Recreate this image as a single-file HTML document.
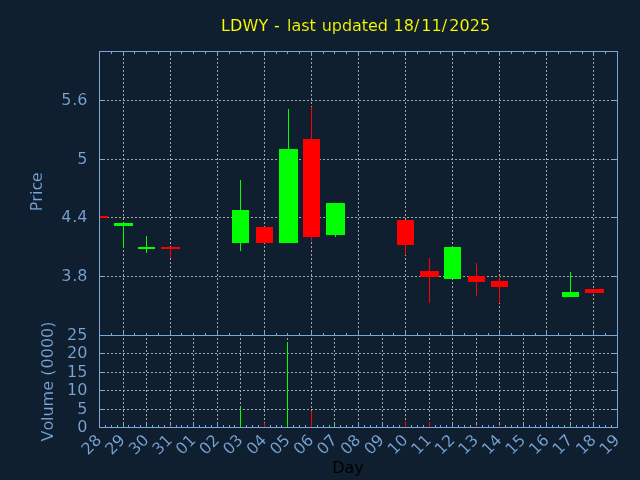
<!DOCTYPE html>
<html lang="en">
<head>
<meta charset="utf-8">
<title>LDWY - last updated 18/11/2025</title>
<style>
html,body{margin:0;padding:0;background:#0f1f2f;}
body{width:640px;height:480px;overflow:hidden;}
svg{display:block;}
svg text{font-family:"DejaVu Sans","Liberation Sans",sans-serif;font-size:16px;stroke:#0f1f2f;stroke-width:0.12px;}
</style>
</head>
<body>
<svg width="640" height="480" viewBox="0 0 640 480">
<rect x="0" y="0" width="640" height="480" fill="#0f1f2f"/>
<g shape-rendering="crispEdges">
<line x1="100" y1="100.5" x2="617" y2="100.5" stroke="#a8a8a8" stroke-width="1" stroke-dasharray="2 2" stroke-dashoffset="1"/>
<line x1="100" y1="159.5" x2="617" y2="159.5" stroke="#a8a8a8" stroke-width="1" stroke-dasharray="2 2" stroke-dashoffset="1"/>
<line x1="100" y1="217.5" x2="617" y2="217.5" stroke="#a8a8a8" stroke-width="1" stroke-dasharray="2 2" stroke-dashoffset="1"/>
<line x1="100" y1="276.5" x2="617" y2="276.5" stroke="#a8a8a8" stroke-width="1" stroke-dasharray="2 2" stroke-dashoffset="1"/>
<line x1="123.5" y1="52" x2="123.5" y2="335" stroke="#a8a8a8" stroke-width="1" stroke-dasharray="2 2" stroke-dashoffset="2"/>
<line x1="170.5" y1="52" x2="170.5" y2="335" stroke="#a8a8a8" stroke-width="1" stroke-dasharray="2 2" stroke-dashoffset="2"/>
<line x1="217.5" y1="52" x2="217.5" y2="335" stroke="#a8a8a8" stroke-width="1" stroke-dasharray="2 2" stroke-dashoffset="2"/>
<line x1="264.5" y1="52" x2="264.5" y2="335" stroke="#a8a8a8" stroke-width="1" stroke-dasharray="2 2" stroke-dashoffset="2"/>
<line x1="311.5" y1="52" x2="311.5" y2="335" stroke="#a8a8a8" stroke-width="1" stroke-dasharray="2 2" stroke-dashoffset="2"/>
<line x1="358.5" y1="52" x2="358.5" y2="335" stroke="#a8a8a8" stroke-width="1" stroke-dasharray="2 2" stroke-dashoffset="2"/>
<line x1="405.5" y1="52" x2="405.5" y2="335" stroke="#a8a8a8" stroke-width="1" stroke-dasharray="2 2" stroke-dashoffset="2"/>
<line x1="452.5" y1="52" x2="452.5" y2="335" stroke="#a8a8a8" stroke-width="1" stroke-dasharray="2 2" stroke-dashoffset="2"/>
<line x1="499.5" y1="52" x2="499.5" y2="335" stroke="#a8a8a8" stroke-width="1" stroke-dasharray="2 2" stroke-dashoffset="2"/>
<line x1="546.5" y1="52" x2="546.5" y2="335" stroke="#a8a8a8" stroke-width="1" stroke-dasharray="2 2" stroke-dashoffset="2"/>
<line x1="593.5" y1="52" x2="593.5" y2="335" stroke="#a8a8a8" stroke-width="1" stroke-dasharray="2 2" stroke-dashoffset="2"/>
<line x1="100" y1="353.5" x2="617" y2="353.5" stroke="#a8a8a8" stroke-width="1" stroke-dasharray="2 2" stroke-dashoffset="1"/>
<line x1="100" y1="372.5" x2="617" y2="372.5" stroke="#a8a8a8" stroke-width="1" stroke-dasharray="2 2" stroke-dashoffset="1"/>
<line x1="100" y1="390.5" x2="617" y2="390.5" stroke="#a8a8a8" stroke-width="1" stroke-dasharray="2 2" stroke-dashoffset="1"/>
<line x1="100" y1="409.5" x2="617" y2="409.5" stroke="#a8a8a8" stroke-width="1" stroke-dasharray="2 2" stroke-dashoffset="1"/>
<line x1="123.5" y1="336" x2="123.5" y2="427" stroke="#a8a8a8" stroke-width="1" stroke-dasharray="2 2" stroke-dashoffset="2"/>
<line x1="146.5" y1="336" x2="146.5" y2="427" stroke="#a8a8a8" stroke-width="1" stroke-dasharray="2 2" stroke-dashoffset="2"/>
<line x1="170.5" y1="336" x2="170.5" y2="427" stroke="#a8a8a8" stroke-width="1" stroke-dasharray="2 2" stroke-dashoffset="2"/>
<line x1="193.5" y1="336" x2="193.5" y2="427" stroke="#a8a8a8" stroke-width="1" stroke-dasharray="2 2" stroke-dashoffset="2"/>
<line x1="217.5" y1="336" x2="217.5" y2="427" stroke="#a8a8a8" stroke-width="1" stroke-dasharray="2 2" stroke-dashoffset="2"/>
<line x1="240.5" y1="336" x2="240.5" y2="427" stroke="#a8a8a8" stroke-width="1" stroke-dasharray="2 2" stroke-dashoffset="2"/>
<line x1="264.5" y1="336" x2="264.5" y2="427" stroke="#a8a8a8" stroke-width="1" stroke-dasharray="2 2" stroke-dashoffset="2"/>
<line x1="287.5" y1="336" x2="287.5" y2="427" stroke="#a8a8a8" stroke-width="1" stroke-dasharray="2 2" stroke-dashoffset="2"/>
<line x1="311.5" y1="336" x2="311.5" y2="427" stroke="#a8a8a8" stroke-width="1" stroke-dasharray="2 2" stroke-dashoffset="2"/>
<line x1="334.5" y1="336" x2="334.5" y2="427" stroke="#a8a8a8" stroke-width="1" stroke-dasharray="2 2" stroke-dashoffset="2"/>
<line x1="358.5" y1="336" x2="358.5" y2="427" stroke="#a8a8a8" stroke-width="1" stroke-dasharray="2 2" stroke-dashoffset="2"/>
<line x1="382.5" y1="336" x2="382.5" y2="427" stroke="#a8a8a8" stroke-width="1" stroke-dasharray="2 2" stroke-dashoffset="2"/>
<line x1="405.5" y1="336" x2="405.5" y2="427" stroke="#a8a8a8" stroke-width="1" stroke-dasharray="2 2" stroke-dashoffset="2"/>
<line x1="429.5" y1="336" x2="429.5" y2="427" stroke="#a8a8a8" stroke-width="1" stroke-dasharray="2 2" stroke-dashoffset="2"/>
<line x1="452.5" y1="336" x2="452.5" y2="427" stroke="#a8a8a8" stroke-width="1" stroke-dasharray="2 2" stroke-dashoffset="2"/>
<line x1="476.5" y1="336" x2="476.5" y2="427" stroke="#a8a8a8" stroke-width="1" stroke-dasharray="2 2" stroke-dashoffset="2"/>
<line x1="499.5" y1="336" x2="499.5" y2="427" stroke="#a8a8a8" stroke-width="1" stroke-dasharray="2 2" stroke-dashoffset="2"/>
<line x1="523.5" y1="336" x2="523.5" y2="427" stroke="#a8a8a8" stroke-width="1" stroke-dasharray="2 2" stroke-dashoffset="2"/>
<line x1="546.5" y1="336" x2="546.5" y2="427" stroke="#a8a8a8" stroke-width="1" stroke-dasharray="2 2" stroke-dashoffset="2"/>
<line x1="570.5" y1="336" x2="570.5" y2="427" stroke="#a8a8a8" stroke-width="1" stroke-dasharray="2 2" stroke-dashoffset="2"/>
<line x1="593.5" y1="336" x2="593.5" y2="427" stroke="#a8a8a8" stroke-width="1" stroke-dasharray="2 2" stroke-dashoffset="2"/>
<rect x="99" y="51" width="1" height="377" fill="#7ba7d9"/>
<rect x="617" y="51" width="1" height="377" fill="#7ba7d9"/>
<rect x="99" y="51" width="519" height="1" fill="#7ba7d9"/>
<rect x="99" y="335" width="519" height="1" fill="#7ba7d9"/>
<rect x="99" y="427" width="519" height="1" fill="#7ba7d9"/>
<rect x="111" y="52" width="1" height="2" fill="#7ba7d9"/>
<rect x="111" y="333" width="1" height="2" fill="#7ba7d9"/>
<rect x="123" y="52" width="1" height="4" fill="#7ba7d9"/>
<rect x="123" y="331" width="1" height="4" fill="#7ba7d9"/>
<rect x="134" y="52" width="1" height="2" fill="#7ba7d9"/>
<rect x="134" y="333" width="1" height="2" fill="#7ba7d9"/>
<rect x="146" y="52" width="1" height="2" fill="#7ba7d9"/>
<rect x="146" y="333" width="1" height="2" fill="#7ba7d9"/>
<rect x="158" y="52" width="1" height="2" fill="#7ba7d9"/>
<rect x="158" y="333" width="1" height="2" fill="#7ba7d9"/>
<rect x="170" y="52" width="1" height="4" fill="#7ba7d9"/>
<rect x="170" y="331" width="1" height="4" fill="#7ba7d9"/>
<rect x="181" y="52" width="1" height="2" fill="#7ba7d9"/>
<rect x="181" y="333" width="1" height="2" fill="#7ba7d9"/>
<rect x="193" y="52" width="1" height="2" fill="#7ba7d9"/>
<rect x="193" y="333" width="1" height="2" fill="#7ba7d9"/>
<rect x="205" y="52" width="1" height="2" fill="#7ba7d9"/>
<rect x="205" y="333" width="1" height="2" fill="#7ba7d9"/>
<rect x="217" y="52" width="1" height="4" fill="#7ba7d9"/>
<rect x="217" y="331" width="1" height="4" fill="#7ba7d9"/>
<rect x="229" y="52" width="1" height="2" fill="#7ba7d9"/>
<rect x="229" y="333" width="1" height="2" fill="#7ba7d9"/>
<rect x="240" y="52" width="1" height="2" fill="#7ba7d9"/>
<rect x="240" y="333" width="1" height="2" fill="#7ba7d9"/>
<rect x="252" y="52" width="1" height="2" fill="#7ba7d9"/>
<rect x="252" y="333" width="1" height="2" fill="#7ba7d9"/>
<rect x="264" y="52" width="1" height="4" fill="#7ba7d9"/>
<rect x="264" y="331" width="1" height="4" fill="#7ba7d9"/>
<rect x="276" y="52" width="1" height="2" fill="#7ba7d9"/>
<rect x="276" y="333" width="1" height="2" fill="#7ba7d9"/>
<rect x="287" y="52" width="1" height="2" fill="#7ba7d9"/>
<rect x="287" y="333" width="1" height="2" fill="#7ba7d9"/>
<rect x="299" y="52" width="1" height="2" fill="#7ba7d9"/>
<rect x="299" y="333" width="1" height="2" fill="#7ba7d9"/>
<rect x="311" y="52" width="1" height="4" fill="#7ba7d9"/>
<rect x="311" y="331" width="1" height="4" fill="#7ba7d9"/>
<rect x="323" y="52" width="1" height="2" fill="#7ba7d9"/>
<rect x="323" y="333" width="1" height="2" fill="#7ba7d9"/>
<rect x="334" y="52" width="1" height="2" fill="#7ba7d9"/>
<rect x="334" y="333" width="1" height="2" fill="#7ba7d9"/>
<rect x="346" y="52" width="1" height="2" fill="#7ba7d9"/>
<rect x="346" y="333" width="1" height="2" fill="#7ba7d9"/>
<rect x="358" y="52" width="1" height="4" fill="#7ba7d9"/>
<rect x="358" y="331" width="1" height="4" fill="#7ba7d9"/>
<rect x="370" y="52" width="1" height="2" fill="#7ba7d9"/>
<rect x="370" y="333" width="1" height="2" fill="#7ba7d9"/>
<rect x="382" y="52" width="1" height="2" fill="#7ba7d9"/>
<rect x="382" y="333" width="1" height="2" fill="#7ba7d9"/>
<rect x="393" y="52" width="1" height="2" fill="#7ba7d9"/>
<rect x="393" y="333" width="1" height="2" fill="#7ba7d9"/>
<rect x="405" y="52" width="1" height="4" fill="#7ba7d9"/>
<rect x="405" y="331" width="1" height="4" fill="#7ba7d9"/>
<rect x="417" y="52" width="1" height="2" fill="#7ba7d9"/>
<rect x="417" y="333" width="1" height="2" fill="#7ba7d9"/>
<rect x="429" y="52" width="1" height="2" fill="#7ba7d9"/>
<rect x="429" y="333" width="1" height="2" fill="#7ba7d9"/>
<rect x="440" y="52" width="1" height="2" fill="#7ba7d9"/>
<rect x="440" y="333" width="1" height="2" fill="#7ba7d9"/>
<rect x="452" y="52" width="1" height="4" fill="#7ba7d9"/>
<rect x="452" y="331" width="1" height="4" fill="#7ba7d9"/>
<rect x="464" y="52" width="1" height="2" fill="#7ba7d9"/>
<rect x="464" y="333" width="1" height="2" fill="#7ba7d9"/>
<rect x="476" y="52" width="1" height="2" fill="#7ba7d9"/>
<rect x="476" y="333" width="1" height="2" fill="#7ba7d9"/>
<rect x="488" y="52" width="1" height="2" fill="#7ba7d9"/>
<rect x="488" y="333" width="1" height="2" fill="#7ba7d9"/>
<rect x="499" y="52" width="1" height="4" fill="#7ba7d9"/>
<rect x="499" y="331" width="1" height="4" fill="#7ba7d9"/>
<rect x="511" y="52" width="1" height="2" fill="#7ba7d9"/>
<rect x="511" y="333" width="1" height="2" fill="#7ba7d9"/>
<rect x="523" y="52" width="1" height="2" fill="#7ba7d9"/>
<rect x="523" y="333" width="1" height="2" fill="#7ba7d9"/>
<rect x="535" y="52" width="1" height="2" fill="#7ba7d9"/>
<rect x="535" y="333" width="1" height="2" fill="#7ba7d9"/>
<rect x="546" y="52" width="1" height="4" fill="#7ba7d9"/>
<rect x="546" y="331" width="1" height="4" fill="#7ba7d9"/>
<rect x="558" y="52" width="1" height="2" fill="#7ba7d9"/>
<rect x="558" y="333" width="1" height="2" fill="#7ba7d9"/>
<rect x="570" y="52" width="1" height="2" fill="#7ba7d9"/>
<rect x="570" y="333" width="1" height="2" fill="#7ba7d9"/>
<rect x="582" y="52" width="1" height="2" fill="#7ba7d9"/>
<rect x="582" y="333" width="1" height="2" fill="#7ba7d9"/>
<rect x="593" y="52" width="1" height="4" fill="#7ba7d9"/>
<rect x="593" y="331" width="1" height="4" fill="#7ba7d9"/>
<rect x="605" y="52" width="1" height="2" fill="#7ba7d9"/>
<rect x="605" y="333" width="1" height="2" fill="#7ba7d9"/>
<rect x="100" y="100" width="4" height="1" fill="#7ba7d9"/>
<rect x="613" y="100" width="4" height="1" fill="#7ba7d9"/>
<rect x="100" y="159" width="4" height="1" fill="#7ba7d9"/>
<rect x="613" y="159" width="4" height="1" fill="#7ba7d9"/>
<rect x="100" y="217" width="4" height="1" fill="#7ba7d9"/>
<rect x="613" y="217" width="4" height="1" fill="#7ba7d9"/>
<rect x="100" y="276" width="4" height="1" fill="#7ba7d9"/>
<rect x="613" y="276" width="4" height="1" fill="#7ba7d9"/>
<rect x="105" y="425" width="1" height="2" fill="#7ba7d9"/>
<rect x="111" y="425" width="1" height="2" fill="#7ba7d9"/>
<rect x="117" y="425" width="1" height="2" fill="#7ba7d9"/>
<rect x="123" y="423" width="1" height="4" fill="#7ba7d9"/>
<rect x="128" y="425" width="1" height="2" fill="#7ba7d9"/>
<rect x="134" y="425" width="1" height="2" fill="#7ba7d9"/>
<rect x="140" y="425" width="1" height="2" fill="#7ba7d9"/>
<rect x="146" y="423" width="1" height="4" fill="#7ba7d9"/>
<rect x="152" y="425" width="1" height="2" fill="#7ba7d9"/>
<rect x="158" y="425" width="1" height="2" fill="#7ba7d9"/>
<rect x="164" y="425" width="1" height="2" fill="#7ba7d9"/>
<rect x="170" y="423" width="1" height="4" fill="#7ba7d9"/>
<rect x="176" y="425" width="1" height="2" fill="#7ba7d9"/>
<rect x="181" y="425" width="1" height="2" fill="#7ba7d9"/>
<rect x="187" y="425" width="1" height="2" fill="#7ba7d9"/>
<rect x="193" y="423" width="1" height="4" fill="#7ba7d9"/>
<rect x="199" y="425" width="1" height="2" fill="#7ba7d9"/>
<rect x="205" y="425" width="1" height="2" fill="#7ba7d9"/>
<rect x="211" y="425" width="1" height="2" fill="#7ba7d9"/>
<rect x="217" y="423" width="1" height="4" fill="#7ba7d9"/>
<rect x="223" y="425" width="1" height="2" fill="#7ba7d9"/>
<rect x="229" y="425" width="1" height="2" fill="#7ba7d9"/>
<rect x="234" y="425" width="1" height="2" fill="#7ba7d9"/>
<rect x="240" y="423" width="1" height="4" fill="#7ba7d9"/>
<rect x="246" y="425" width="1" height="2" fill="#7ba7d9"/>
<rect x="252" y="425" width="1" height="2" fill="#7ba7d9"/>
<rect x="258" y="425" width="1" height="2" fill="#7ba7d9"/>
<rect x="264" y="423" width="1" height="4" fill="#7ba7d9"/>
<rect x="270" y="425" width="1" height="2" fill="#7ba7d9"/>
<rect x="276" y="425" width="1" height="2" fill="#7ba7d9"/>
<rect x="281" y="425" width="1" height="2" fill="#7ba7d9"/>
<rect x="287" y="423" width="1" height="4" fill="#7ba7d9"/>
<rect x="293" y="425" width="1" height="2" fill="#7ba7d9"/>
<rect x="299" y="425" width="1" height="2" fill="#7ba7d9"/>
<rect x="305" y="425" width="1" height="2" fill="#7ba7d9"/>
<rect x="311" y="423" width="1" height="4" fill="#7ba7d9"/>
<rect x="317" y="425" width="1" height="2" fill="#7ba7d9"/>
<rect x="323" y="425" width="1" height="2" fill="#7ba7d9"/>
<rect x="329" y="425" width="1" height="2" fill="#7ba7d9"/>
<rect x="334" y="423" width="1" height="4" fill="#7ba7d9"/>
<rect x="340" y="425" width="1" height="2" fill="#7ba7d9"/>
<rect x="346" y="425" width="1" height="2" fill="#7ba7d9"/>
<rect x="352" y="425" width="1" height="2" fill="#7ba7d9"/>
<rect x="358" y="423" width="1" height="4" fill="#7ba7d9"/>
<rect x="364" y="425" width="1" height="2" fill="#7ba7d9"/>
<rect x="370" y="425" width="1" height="2" fill="#7ba7d9"/>
<rect x="376" y="425" width="1" height="2" fill="#7ba7d9"/>
<rect x="382" y="423" width="1" height="4" fill="#7ba7d9"/>
<rect x="387" y="425" width="1" height="2" fill="#7ba7d9"/>
<rect x="393" y="425" width="1" height="2" fill="#7ba7d9"/>
<rect x="399" y="425" width="1" height="2" fill="#7ba7d9"/>
<rect x="405" y="423" width="1" height="4" fill="#7ba7d9"/>
<rect x="411" y="425" width="1" height="2" fill="#7ba7d9"/>
<rect x="417" y="425" width="1" height="2" fill="#7ba7d9"/>
<rect x="423" y="425" width="1" height="2" fill="#7ba7d9"/>
<rect x="429" y="423" width="1" height="4" fill="#7ba7d9"/>
<rect x="435" y="425" width="1" height="2" fill="#7ba7d9"/>
<rect x="440" y="425" width="1" height="2" fill="#7ba7d9"/>
<rect x="446" y="425" width="1" height="2" fill="#7ba7d9"/>
<rect x="452" y="423" width="1" height="4" fill="#7ba7d9"/>
<rect x="458" y="425" width="1" height="2" fill="#7ba7d9"/>
<rect x="464" y="425" width="1" height="2" fill="#7ba7d9"/>
<rect x="470" y="425" width="1" height="2" fill="#7ba7d9"/>
<rect x="476" y="423" width="1" height="4" fill="#7ba7d9"/>
<rect x="482" y="425" width="1" height="2" fill="#7ba7d9"/>
<rect x="488" y="425" width="1" height="2" fill="#7ba7d9"/>
<rect x="493" y="425" width="1" height="2" fill="#7ba7d9"/>
<rect x="499" y="423" width="1" height="4" fill="#7ba7d9"/>
<rect x="505" y="425" width="1" height="2" fill="#7ba7d9"/>
<rect x="511" y="425" width="1" height="2" fill="#7ba7d9"/>
<rect x="517" y="425" width="1" height="2" fill="#7ba7d9"/>
<rect x="523" y="423" width="1" height="4" fill="#7ba7d9"/>
<rect x="529" y="425" width="1" height="2" fill="#7ba7d9"/>
<rect x="535" y="425" width="1" height="2" fill="#7ba7d9"/>
<rect x="540" y="425" width="1" height="2" fill="#7ba7d9"/>
<rect x="546" y="423" width="1" height="4" fill="#7ba7d9"/>
<rect x="552" y="425" width="1" height="2" fill="#7ba7d9"/>
<rect x="558" y="425" width="1" height="2" fill="#7ba7d9"/>
<rect x="564" y="425" width="1" height="2" fill="#7ba7d9"/>
<rect x="570" y="423" width="1" height="4" fill="#7ba7d9"/>
<rect x="576" y="425" width="1" height="2" fill="#7ba7d9"/>
<rect x="582" y="425" width="1" height="2" fill="#7ba7d9"/>
<rect x="588" y="425" width="1" height="2" fill="#7ba7d9"/>
<rect x="593" y="423" width="1" height="4" fill="#7ba7d9"/>
<rect x="599" y="425" width="1" height="2" fill="#7ba7d9"/>
<rect x="605" y="425" width="1" height="2" fill="#7ba7d9"/>
<rect x="611" y="425" width="1" height="2" fill="#7ba7d9"/>
<rect x="100" y="353" width="4" height="1" fill="#7ba7d9"/>
<rect x="613" y="353" width="4" height="1" fill="#7ba7d9"/>
<rect x="100" y="372" width="4" height="1" fill="#7ba7d9"/>
<rect x="613" y="372" width="4" height="1" fill="#7ba7d9"/>
<rect x="100" y="390" width="4" height="1" fill="#7ba7d9"/>
<rect x="613" y="390" width="4" height="1" fill="#7ba7d9"/>
<rect x="100" y="409" width="4" height="1" fill="#7ba7d9"/>
<rect x="613" y="409" width="4" height="1" fill="#7ba7d9"/>
<rect x="100" y="216" width="8" height="2" fill="#ff0000"/>
<rect x="123" y="223" width="1" height="25" fill="#00ff00"/>
<rect x="114" y="223" width="19" height="3" fill="#00ff00"/>
<rect x="146" y="236" width="1" height="17" fill="#00ff00"/>
<rect x="138" y="247" width="17" height="2" fill="#00ff00"/>
<rect x="170" y="247" width="1" height="11" fill="#ff0000"/>
<rect x="161" y="247" width="19" height="2" fill="#ff0000"/>
<rect x="240" y="180" width="1" height="71" fill="#00ff00"/>
<rect x="232" y="210" width="17" height="33" fill="#00ff00"/>
<rect x="256" y="227" width="17" height="16" fill="#ff0000"/>
<rect x="288" y="109" width="1" height="134" fill="#00ff00"/>
<rect x="279" y="149" width="19" height="94" fill="#00ff00"/>
<rect x="311" y="107" width="1" height="134" fill="#ff0000"/>
<rect x="303" y="139" width="17" height="98" fill="#ff0000"/>
<rect x="335" y="203" width="1" height="34" fill="#00ff00"/>
<rect x="326" y="203" width="19" height="32" fill="#00ff00"/>
<rect x="405" y="220" width="1" height="35" fill="#ff0000"/>
<rect x="397" y="220" width="17" height="25" fill="#ff0000"/>
<rect x="429" y="258" width="1" height="45" fill="#ff0000"/>
<rect x="420" y="271" width="19" height="6" fill="#ff0000"/>
<rect x="444" y="247" width="17" height="32" fill="#00ff00"/>
<rect x="476" y="263" width="1" height="33" fill="#ff0000"/>
<rect x="468" y="276" width="17" height="6" fill="#ff0000"/>
<rect x="499" y="276" width="1" height="27" fill="#ff0000"/>
<rect x="491" y="281" width="17" height="6" fill="#ff0000"/>
<rect x="570" y="272" width="1" height="25" fill="#00ff00"/>
<rect x="562" y="292" width="17" height="5" fill="#00ff00"/>
<rect x="585" y="289" width="19" height="4" fill="#ff0000"/>
<rect x="123" y="426" width="1" height="1" fill="#00ff00"/>
<rect x="146" y="426" width="1" height="1" fill="#00ff00"/>
<rect x="170" y="426" width="1" height="1" fill="#ff0000"/>
<rect x="240" y="408" width="1" height="19" fill="#00ff00"/>
<rect x="264" y="423" width="1" height="4" fill="#ff0000"/>
<rect x="287" y="342" width="1" height="85" fill="#00ff00"/>
<rect x="311" y="411" width="1" height="16" fill="#ff0000"/>
<rect x="334" y="425" width="1" height="2" fill="#00ff00"/>
<rect x="405" y="421" width="1" height="6" fill="#ff0000"/>
<rect x="429" y="422" width="1" height="5" fill="#ff0000"/>
<rect x="476" y="425" width="1" height="2" fill="#ff0000"/>
<rect x="499" y="425" width="1" height="2" fill="#ff0000"/>
<rect x="570" y="425" width="1" height="2" fill="#00ff00"/>
</g>
<g opacity="0.999">
<text x="61.22 72.30 77.22" y="105" fill="#7ba7d9">5.6</text>
<text x="77.22" y="164" fill="#7ba7d9">5</text>
<text x="61.22 72.30 77.22" y="222" fill="#7ba7d9">4.4</text>
<text x="61.22 72.30 77.22" y="281" fill="#7ba7d9">3.8</text>
<text x="67.05 77.22" y="340" fill="#7ba7d9">25</text>
<text x="67.05 77.22" y="358" fill="#7ba7d9">20</text>
<text x="67.05 77.22" y="377" fill="#7ba7d9">15</text>
<text x="67.05 77.22" y="395" fill="#7ba7d9">10</text>
<text x="77.22" y="414" fill="#7ba7d9">5</text>
<text x="77.22" y="432" fill="#7ba7d9">0</text>
<text transform="translate(102.50,441.00) rotate(-45)" x="-20.35 -10.18" y="0" fill="#7ba7d9">28</text>
<text transform="translate(126.05,441.00) rotate(-45)" x="-20.35 -10.18" y="0" fill="#7ba7d9">29</text>
<text transform="translate(149.59,441.00) rotate(-45)" x="-20.35 -10.18" y="0" fill="#7ba7d9">30</text>
<text transform="translate(173.14,441.00) rotate(-45)" x="-20.35 -10.18" y="0" fill="#7ba7d9">31</text>
<text transform="translate(196.68,441.00) rotate(-45)" x="-20.35 -10.18" y="0" fill="#7ba7d9">01</text>
<text transform="translate(220.23,441.00) rotate(-45)" x="-20.35 -10.18" y="0" fill="#7ba7d9">02</text>
<text transform="translate(243.77,441.00) rotate(-45)" x="-20.35 -10.18" y="0" fill="#7ba7d9">03</text>
<text transform="translate(267.32,441.00) rotate(-45)" x="-20.35 -10.18" y="0" fill="#7ba7d9">04</text>
<text transform="translate(290.86,441.00) rotate(-45)" x="-20.35 -10.18" y="0" fill="#7ba7d9">05</text>
<text transform="translate(314.41,441.00) rotate(-45)" x="-20.35 -10.18" y="0" fill="#7ba7d9">06</text>
<text transform="translate(337.95,441.00) rotate(-45)" x="-20.35 -10.18" y="0" fill="#7ba7d9">07</text>
<text transform="translate(361.50,441.00) rotate(-45)" x="-20.35 -10.18" y="0" fill="#7ba7d9">08</text>
<text transform="translate(385.05,441.00) rotate(-45)" x="-20.35 -10.18" y="0" fill="#7ba7d9">09</text>
<text transform="translate(408.59,441.00) rotate(-45)" x="-20.35 -10.18" y="0" fill="#7ba7d9">10</text>
<text transform="translate(432.14,441.00) rotate(-45)" x="-20.35 -10.18" y="0" fill="#7ba7d9">11</text>
<text transform="translate(455.68,441.00) rotate(-45)" x="-20.35 -10.18" y="0" fill="#7ba7d9">12</text>
<text transform="translate(479.23,441.00) rotate(-45)" x="-20.35 -10.18" y="0" fill="#7ba7d9">13</text>
<text transform="translate(502.77,441.00) rotate(-45)" x="-20.35 -10.18" y="0" fill="#7ba7d9">14</text>
<text transform="translate(526.32,441.00) rotate(-45)" x="-20.35 -10.18" y="0" fill="#7ba7d9">15</text>
<text transform="translate(549.86,441.00) rotate(-45)" x="-20.35 -10.18" y="0" fill="#7ba7d9">16</text>
<text transform="translate(573.41,441.00) rotate(-45)" x="-20.35 -10.18" y="0" fill="#7ba7d9">17</text>
<text transform="translate(596.95,441.00) rotate(-45)" x="-20.35 -10.18" y="0" fill="#7ba7d9">18</text>
<text transform="translate(620.50,441.00) rotate(-45)" x="-20.35 -10.18" y="0" fill="#7ba7d9">19</text>
<text x="221.00 229.99 242.45 258.42 268.35 274.03 281.36 287.05 291.47 301.18 309.59 315.95 321.64 331.86 341.92 351.98 361.69 368.05 377.68 387.74 393.42 403.69 413.96 421.29 431.56 441.83 449.17 459.44 469.71 479.98" y="31" fill="#ffff00">LDWY - last updated 18/11/2025</text>
<text x="332.29 344.62 354.24" y="473" fill="#000000">Day</text>
<text transform="translate(42.00,192.00) rotate(-90)" x="-19.37 -9.72 -2.89 1.50 9.83" y="0" fill="#7ba7d9">Price</text>
<text transform="translate(53.00,381.00) rotate(-90)" x="-60.57 -49.62 -39.91 -35.53 -25.40 -9.83 -0.30 5.34 12.60 22.78 32.95 43.13 53.30" y="0" fill="#7ba7d9">Volume (0000)</text>
</g>
</svg>
</body>
</html>
